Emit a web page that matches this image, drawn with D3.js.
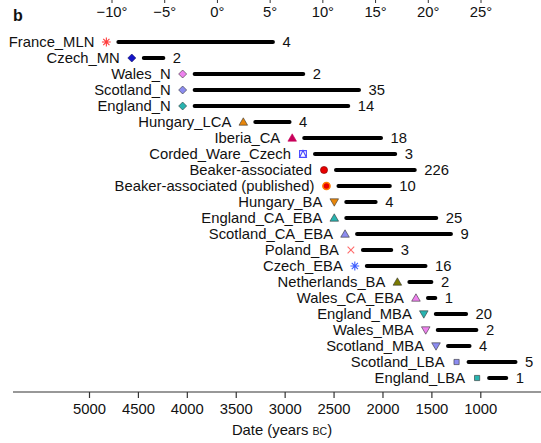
<!DOCTYPE html>
<html>
<head>
<meta charset="utf-8">
<script src="https://cdn.jsdelivr.net/npm/d3@7"></script>
<style>
  body { margin: 0; background: #fff; }
  text { font-family: "Liberation Sans", Arial, Helvetica, sans-serif; fill: #111; }
</style>
</head>
<body>
<div id="chart"></div>
<script>
var svgWidth = 541;
var svgHeight = 443;

// group names, date ranges (years BC) and sample counts
var groups = ["France_MLN", "Czech_MN", "Wales_N", "Scotland_N", "England_N", "Hungary_LCA",
  "Iberia_CA", "Corded_Ware_Czech", "Beaker-associated", "Beaker-associated (published)",
  "Hungary_BA", "England_CA_EBA", "Scotland_CA_EBA", "Poland_BA", "Czech_EBA",
  "Netherlands_BA", "Wales_CA_EBA", "England_MBA", "Wales_MBA", "Scotland_MBA",
  "Scotland_LBA", "England_LBA"];
var startYears = [4700, 4440, 3920, 3920, 3920, 3300, 2800, 2690, 2475, 2450,
  2370, 2370, 2260, 2200, 2160, 1725, 1535, 1455, 1435, 1330, 1120, 910];
var endYears = [3120, 4240, 2810, 2240, 2350, 2950, 2015, 1870, 1670, 1925,
  2070, 1450, 1300, 1910, 1560, 1500, 1460, 1145, 1040, 1110, 640, 735];
var counts = [4, 2, 2, 35, 14, 4, 18, 3, 226, 10, 4, 25, 9, 3, 16, 2, 1, 20, 2, 4, 5, 1];

// axis ticks
var dateTicks = [5000, 4500, 4000, 3500, 3000, 2500, 2000, 1500, 1000];
var lonTicks = [-10, -5, 0, 5, 10, 15, 20, 25];

// marker styles per group
var markerShapes = ["asterisk", "diamond", "diamond", "diamond", "diamond", "triUp",
  "triUp", "sqTri", "circle", "circle", "triDown", "triUp", "triUp", "times", "asterisk",
  "triUp", "triUp", "triDown", "triDown", "triDown", "square", "square"];
var markerFills = ["#ff3b3b", "#1414c8", "#ee82ee", "#8c8cf0", "#28b4b0", "#e8860a",
  "#c8005a", "#4a4aff", "#e80000", "#e80000", "#e8860a", "#28b4b0", "#8c8cf0", "#ff6a6a",
  "#3c5cff", "#7a7a00", "#ee82ee", "#28b4b0", "#ee82ee", "#8c8cf0", "#8c8cf0", "#28b4b0"];
var markerStrokes = ["#ff3b3b", "#101060", "#333", "#333", "#333", "#333",
  "#c8005a", "#4a4aff", "#7a0000", "#ff7a00", "#333", "#333", "#333", "#ff6a6a",
  "#3c5cff", "#333", "#333", "#333", "#333", "#333", "#333", "#333"];

var svg = d3.select("#chart")
  .append("svg")
  .attr("width", svgWidth)
  .attr("height", svgHeight);

// scales
var xScale = d3.scaleLinear()
  .domain([5000, 1000])
  .range([89, 480.3]);

var lonScale = d3.scaleLinear()
  .domain([-10, 25])
  .range([112, 481]);

var yScale = d3.scalePoint()
  .domain(groups)
  .range([42, 378]);

// panel letter
svg.append("text")
  .attr("x", 13)
  .attr("y", 21)
  .style("font-weight", "bold")
  .style("font-size", "16px")
  .text("b");

// top (longitude) axis
var topAxis = svg.append("g");
topAxis.selectAll("line")
  .data(lonTicks)
  .enter()
  .append("line")
  .attr("x1", d => lonScale(d))
  .attr("x2", d => lonScale(d))
  .attr("y1", 0)
  .attr("y2", 3)
  .attr("stroke", "#333")
  .attr("stroke-width", 1);
topAxis.selectAll("text")
  .data(lonTicks)
  .enter()
  .append("text")
  .attr("x", d => lonScale(d))
  .attr("y", 17)
  .attr("text-anchor", "middle")
  .style("font-size", "14.8px")
  .text(d => (d < 0 ? "\u2212" + Math.abs(d) : d) + "\u00B0");

// bottom (date) axis
var bottomAxis = d3.axisBottom(xScale)
  .tickValues(dateTicks)
  .tickFormat(d3.format("d"))
  .tickSize(6)
  .tickSizeOuter(0)
  .tickPadding(5);

var xAxis = svg.append("g")
  .attr("transform", "translate(0, 392)")
  .call(bottomAxis);
xAxis.select(".domain").remove();
xAxis.append("line")
  .attr("x1", 13)
  .attr("x2", svgWidth)
  .attr("stroke", "#333")
  .attr("stroke-width", 1.2);
xAxis.selectAll(".tick line").attr("stroke", "#333").attr("stroke-width", 1.2);
xAxis.selectAll(".tick text")
  .style("font-size", "14.8px")
  .style("font-family", "'Liberation Sans', Arial, sans-serif")
  .attr("fill", "#111");

var title = svg.append("text")
  .attr("x", 282)
  .attr("y", 435)
  .attr("text-anchor", "middle")
  .style("font-size", "14.8px");
title.append("tspan").text("Date (years ");
title.append("tspan").style("font-size", "10.5px").text("BC");
title.append("tspan").text(")");

// one row per group
var rows = groups.map(function(g, i) {
  return {
    group: g,
    start: startYears[i],
    end: endYears[i],
    n: counts[i],
    shape: markerShapes[i],
    fill: markerFills[i],
    stroke: markerStrokes[i]
  };
});

var chartGroup = svg.append("g");

// range bars
chartGroup.selectAll(".bar")
  .data(rows)
  .enter()
  .append("line")
  .attr("class", "bar")
  .attr("x1", d => xScale(d.start))
  .attr("x2", d => xScale(d.end))
  .attr("y1", d => yScale(d.group))
  .attr("y2", d => yScale(d.group))
  .attr("stroke", "#000")
  .attr("stroke-width", 4)
  .attr("stroke-linecap", "round");

// counts
chartGroup.selectAll(".count")
  .data(rows)
  .enter()
  .append("text")
  .attr("class", "count")
  .attr("x", d => xScale(d.end) + 9.5)
  .attr("y", d => yScale(d.group))
  .attr("dy", "0.36em")
  .style("font-size", "14.8px")
  .text(d => d.n);

// marker paths
function markerPath(shape) {
  if (shape === "diamond") return "M0,-4L4,0L0,4L-4,0Z";
  if (shape === "triUp") return "M0,-4.2L4.3,3.2L-4.3,3.2Z";
  if (shape === "triDown") return "M0,4.2L4.3,-3.2L-4.3,-3.2Z";
  if (shape === "square") return "M-2.6,-2.6H2.6V2.6H-2.6Z";
  if (shape === "sqTri") return "M-3.4,-3.4H3.4V3.4H-3.4Z M0,-3.4L3.4,3.4L-3.4,3.4Z";
  if (shape === "times") return "M-3.3,-3.3L3.3,3.3M3.3,-3.3L-3.3,3.3";
  if (shape === "asterisk") return "M0,-4.4V4.4M-4.4,0H4.4M-3.1,-3.1L3.1,3.1M3.1,-3.1L-3.1,3.1";
  return d3.symbol(d3.symbolCircle, 40)();
}

var openShapes = ["times", "asterisk", "sqTri"];

chartGroup.selectAll(".marker")
  .data(rows)
  .enter()
  .append("path")
  .attr("class", "marker")
  .attr("transform", d => `translate(${xScale(d.start) - 12}, ${yScale(d.group)})`)
  .attr("d", d => markerPath(d.shape))
  .attr("fill", d => openShapes.indexOf(d.shape) >= 0 ? "none" : d.fill)
  .attr("stroke", d => d.stroke)
  .attr("stroke-width", d => openShapes.indexOf(d.shape) >= 0 ? 1.1 : (d.group === "Beaker-associated (published)" ? 1.6 : 0.6));

// group names
chartGroup.selectAll(".groupLabel")
  .data(rows)
  .enter()
  .append("text")
  .attr("class", "groupLabel")
  .attr("x", d => xScale(d.start) - 24)
  .attr("y", d => yScale(d.group))
  .attr("dy", "0.36em")
  .attr("text-anchor", "end")
  .style("font-size", "14.8px")
  .text(d => d.group);
</script>
</body>
</html>
